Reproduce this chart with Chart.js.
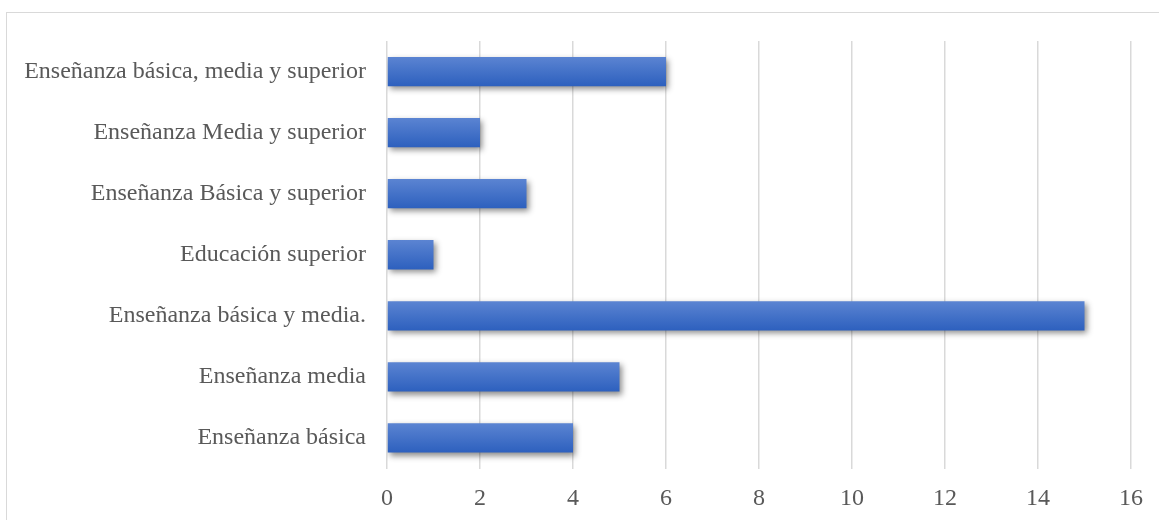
<!DOCTYPE html>
<html>
<head>
<meta charset="utf-8">
<script src="https://cdn.jsdelivr.net/npm/chart.js@4/dist/chart.umd.min.js"></script>
<style>
  html, body { margin: 0; padding: 0; background: #fff; }
  #marco {
    position: absolute; left: 6px; top: 12px;
    width: 1170px; height: 530px;
    border: 1px solid #d9d9d9;
  }
  #grafico { position: absolute; left: 0; top: 0; }
</style>
</head>
<body>
<div id="marco"></div>
<canvas id="grafico" width="1159" height="520"></canvas>
<script>
const categorias = [
  'Enseñanza básica, media y superior',
  'Enseñanza Media y superior',
  'Enseñanza Básica y superior',
  'Educación superior',
  'Enseñanza básica y media.',
  'Enseñanza media',
  'Enseñanza básica'
];
const valores = [6, 2, 3, 1, 15, 5, 4];
const ticksX = [0, 2, 4, 6, 8, 10, 12, 14, 16];

const graficoCanvas = document.getElementById('grafico');
const fuente = { family: '"Liberation Serif", "Times New Roman", serif', size: 24 };
const anchoBarra = 0.48;

// degradado vertical propio de cada barra
function colorBarra(ctx) {
  const chart = ctx.chart;
  const escalaY = chart.scales.y;
  if (!chart.chartArea || !escalaY) return '#4472c4';
  const cy = escalaY.getPixelForValue(ctx.dataIndex);
  const h = (escalaY.height / categorias.length) * anchoBarra;
  const g = chart.ctx.createLinearGradient(0, cy - h / 2, 0, cy + h / 2);
  g.addColorStop(0, '#5b84d2');
  g.addColorStop(1, '#2d60be');
  return g;
}

// sombra suave bajo las barras
const sombra = {
  id: 'sombra',
  beforeDatasetsDraw(chart) {
    const c = chart.ctx;
    c.save();
    c.shadowColor = 'rgba(0,0,0,0.45)';
    c.shadowBlur = 6;
    c.shadowOffsetX = 2;
    c.shadowOffsetY = 3;
  },
  afterDatasetsDraw(chart) {
    chart.ctx.restore();
  }
};

const grafico = new Chart(graficoCanvas, {
  type: 'bar',
  data: {
    labels: categorias,
    datasets: [{
      data: valores,
      backgroundColor: colorBarra,
      borderWidth: 0,
      categoryPercentage: 1,
      barPercentage: anchoBarra
    }]
  },
  options: {
    indexAxis: 'y',
    responsive: false,
    animation: false,
    layout: { padding: { top: 41, right: 28, left: 0, bottom: 0 } },
    plugins: {
      legend: { display: false },
      tooltip: { enabled: false }
    },
    scales: {
      x: {
        min: 0,
        max: 16,
        afterBuildTicks(scale) {
          scale.ticks = ticksX.map(v => ({ value: v }));
        },
        afterFit(scale) { scale.height = 51.5; },
        border: { display: false },
        grid: { color: '#d9d9d9', lineWidth: 1.5, drawTicks: false },
        ticks: { color: '#595959', padding: 16, font: fuente }
      },
      y: {
        afterFit(scale) { scale.width = 387; },
        border: { display: false },
        grid: { display: false, drawTicks: false },
        ticks: { color: '#595959', padding: 21, font: fuente }
      }
    }
  },
  plugins: [sombra]
});
</script>
</body>
</html>
